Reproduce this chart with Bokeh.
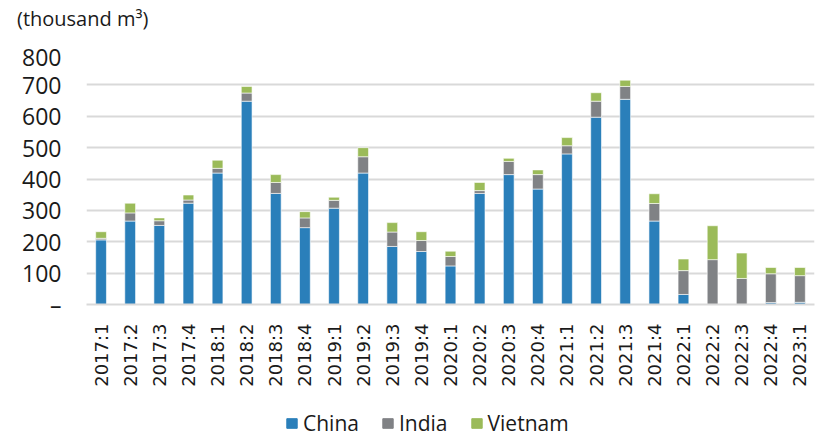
from bokeh.plotting import figure
from bokeh.layouts import column
from bokeh.models import (FactorRange, Range1d, Legend, LegendItem, Div,
                          ColumnDataSource)
from bokeh.embed import file_html
from bokeh.resources import INLINE

quarters = ["2017:1", "2017:2", "2017:3", "2017:4",
            "2018:1", "2018:2", "2018:3", "2018:4",
            "2019:1", "2019:2", "2019:3", "2019:4",
            "2020:1", "2020:2", "2020:3", "2020:4",
            "2021:1", "2021:2", "2021:3", "2021:4",
            "2022:1", "2022:2", "2022:3", "2022:4",
            "2023:1"]
china = [206, 266, 252, 323, 419, 648, 354, 245, 307, 419, 185, 169,
         123, 354, 414, 368, 480, 597, 654, 266, 32, 0, 0, 6, 7]
india = [5, 26, 15, 10, 15, 26, 35, 31, 25, 52, 46, 35,
         30, 9, 42, 46, 26, 51, 41, 56, 76, 143, 83, 92, 85]
vietnam = [21, 31, 9, 16, 26, 21, 25, 20, 10, 29, 30, 28,
           17, 26, 10, 15, 26, 27, 20, 31, 37, 108, 81, 20, 26]
series = ["China", "India", "Vietnam"]
colors = ["#2A7FBA", "#808285", "#9BBB59"]
y_ticks = [0, 100, 200, 300, 400, 500, 600, 700, 800]
unit_label = "(thousand m\u00b3)"

W = 823
TITLE_H = 40
LEGEND_H = 34
MAIN_H = 437 - TITLE_H - LEGEND_H
FRAME_LEFT = 86

source = ColumnDataSource(dict(q=quarters, China=china, India=india, Vietnam=vietnam))

# ---- title strip ----
title_div = Div(text=unit_label, width=W, height=TITLE_H, margin=(0, 0, 0, 0),
                styles={"font-family": "Open Sans", "font-size": "20px",
                        "color": "#1a1a1a", "padding-left": "17px",
                        "line-height": "38px", "white-space": "nowrap"})

# ---- main chart ----
p = figure(width=W, height=MAIN_H,
           x_range=FactorRange(*quarters, range_padding=0),
           y_range=Range1d(0, 800), output_backend="svg", toolbar_location=None,
           min_border_left=FRAME_LEFT, min_border_right=9, min_border_top=13,
           min_border_bottom=MAIN_H - 13 - 251)

p.vbar_stack(series, x="q", width=0.37, color=colors, source=source,
             line_color="white", line_width=0.6)

p.outline_line_color = None
p.xgrid.grid_line_color = None
p.ygrid.grid_line_color = "#D9D9D9"
p.ygrid.grid_line_width = 2
p.yaxis.ticker = y_ticks
p.yaxis.major_label_overrides = {0: "\u2013"}
p.yaxis.axis_line_color = None
p.yaxis.major_tick_line_color = None
p.yaxis.minor_tick_line_color = None
p.yaxis.major_label_text_font = "Open Sans"
p.yaxis.major_label_text_font_size = "23px"
p.yaxis.major_label_text_color = "#1a1a1a"
p.yaxis.major_label_standoff = 19

p.xaxis.axis_line_color = "#D9D9D9"
p.xaxis.axis_line_width = 2
p.xaxis.major_tick_line_color = None
p.xaxis.major_label_orientation = 1.5708
p.xaxis.major_label_text_font = "DejaVu Sans"
p.xaxis.major_label_text_font_size = "18px"
p.xaxis.major_label_text_color = "#1a1a1a"
p.xaxis.major_label_standoff = 13

# ---- legend strip (bars lie outside its y range; only the legend shows) ----
lfig = figure(width=W, height=LEGEND_H, x_range=FactorRange(*quarters),
              y_range=Range1d(10000, 10001),
              x_axis_location=None, y_axis_location=None, output_backend="svg",
              toolbar_location=None, min_border=0)
lfig.outline_line_color = None
lfig.grid.visible = False
items = []
for s, c in zip(series, colors):
    r = lfig.vbar(x="q", top=s, width=0.37, fill_color=c, line_color=c, source=source)
    items.append(LegendItem(label=s, renderers=[r]))
legend = Legend(items=items, orientation="horizontal", location=(285 - FRAME_LEFT, 0),
                border_line_color=None, background_fill_alpha=0,
                label_text_font="Open Sans", label_text_font_size="21px",
                label_text_color="#1a1a1a", glyph_width=13, glyph_height=12,
                spacing=22, label_standoff=5, padding=0, margin=0)
lfig.add_layout(legend, "center")

layout = column(title_div, p, lfig, spacing=0)
open("out.html", "w").write(file_html(layout, INLINE))
